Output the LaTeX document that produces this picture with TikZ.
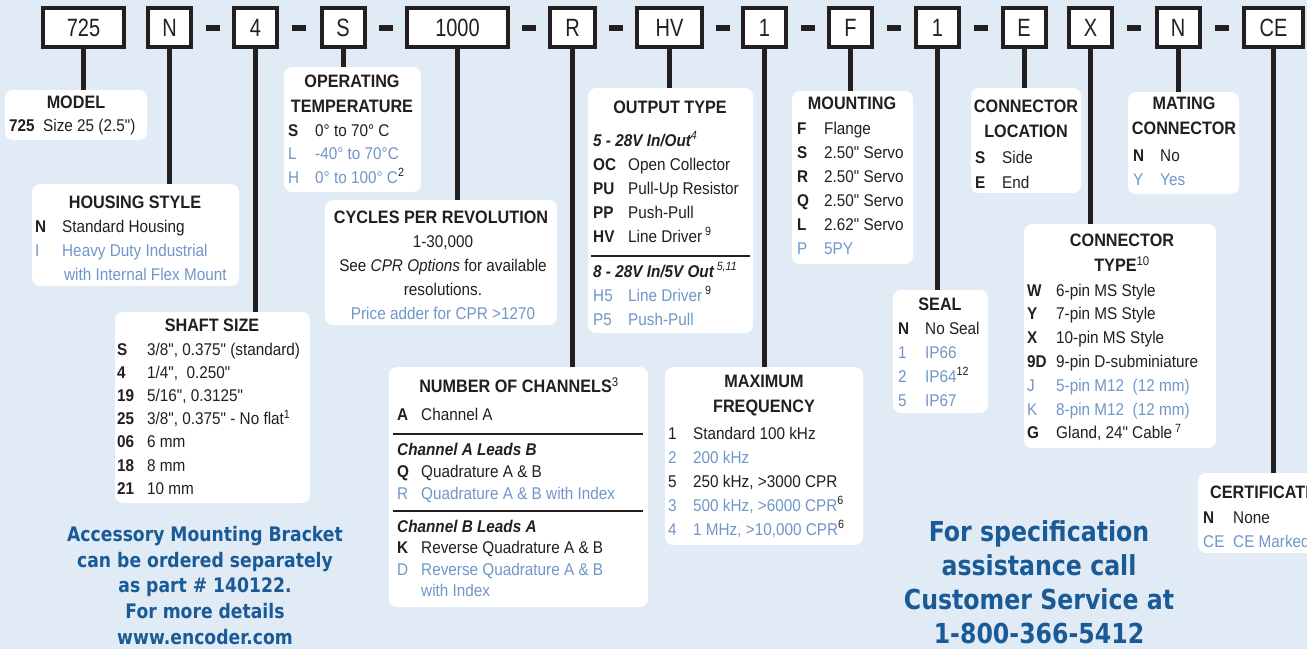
\documentclass[tikz,border=0pt]{standalone}
\usepackage{fontspec}
\newfontfamily\bodyfont{Liberation Sans}[FakeStretch=0.9]
\newfontfamily\codefont{Liberation Sans}[FakeStretch=0.8]
\newfontfamily\notefont{DejaVu Sans}[FakeStretch=0.86]
\usetikzlibrary{calc,fit}
\definecolor{bgBlue}{HTML}{E0EBF6}
\definecolor{ink}{HTML}{231F20}
\definecolor{optBlue}{HTML}{7096C8}
\definecolor{noteBlue}{HTML}{1A5A96}
\newcommand\optlite[1]{\textcolor{optBlue}{#1}}
\newcommand\fnote[1]{\textsuperscript{\mdseries\textcolor{ink}{#1}}}
\newcommand\optrows[2]{\begin{tabular}[t]{@{}p{#1}@{}l@{}}#2\end{tabular}}

\begin{document}
\bodyfont
\begin{tikzpicture}[x=1pt, y=-1pt,
      codebox/.style={draw=ink, line width=4pt, fill=white, inner sep=0pt,
                      minimum width=#1, minimum height=39pt, text=ink,
                      font=\codefont\fontsize{25}{25}\selectfont},
      codebox/.default=43pt,
      infobox/.style={fill=white, rounded corners=8pt, inner sep=0pt},
      ttl/.style={align=center, inner sep=0pt, text=ink,
                  font=\bodyfont\bfseries\fontsize{18}{25}\selectfont},
      rows/.style={anchor=base west, inner sep=0pt, text=ink,
                   font=\bodyfont\fontsize{17}{24}\selectfont},
      lines/.style={align=center, inner sep=0pt, text=ink,
                    font=\bodyfont\fontsize{17}{24}\selectfont},
      stem/.style={draw=ink, line width=5pt},
      rule/.style={draw=ink, line width=1.5pt},
      note/.style={align=center, inner sep=0pt, text=noteBlue}]
    \useasboundingbox (0,0) rectangle (1307,649);
    \fill[bgBlue] (0,0) rectangle (1307,649);
    \clip (0,0) rectangle (1307,649);

    % option boxes
    \node[infobox, fit={(5,90) (147,140)}]      (model)    {};
    \node[infobox, fit={(32,184) (239,286)}]    (housing)  {};
    \node[infobox, fit={(284,67) (421,192)}]    (oper)     {};
    \node[infobox, fit={(325,200) (557,325)}]   (cycles)   {};
    \node[infobox, fit={(115,312) (310,503)}]   (shaft)    {};
    \node[infobox, fit={(389,367) (648,607)}]   (channels) {};
    \node[infobox, fit={(588,88) (753,333)}]    (output)   {};
    \node[infobox, fit={(665,367) (863,545)}]   (maxfreq)  {};
    \node[infobox, fit={(792,91) (913,264)}]    (mounting) {};
    \node[infobox, fit={(893,290) (988,413)}]   (seal)     {};
    \node[infobox, fit={(971,88) (1081,193)}]   (location) {};
    \node[infobox, fit={(1128,92) (1239,194)}]  (mating)   {};
    \node[infobox, fit={(1024,224) (1216,448)}] (conntype) {};
    \node[infobox, fit={(1198,473) (1340,553)}] (cert)     {};

    % part number
    \node[codebox=81pt]  (c725)  at (83.5,27.5)   {725};
    \node[codebox]       (cN)    at (169.5,27.5)  {N};
    \node[codebox]       (c4)    at (255.5,27.5)  {4};
    \node[codebox]       (cS)    at (343,27.5)    {S};
    \node[codebox=101pt] (c1000) at (457.5,27.5)  {1000};
    \node[codebox=45pt]  (cR)    at (572.5,27.5)  {R};
    \node[codebox=65pt]  (cHV)   at (669.5,27.5)  {HV};
    \node[codebox]       (cFreq) at (764.5,27.5)  {1};
    \node[codebox]       (cF)    at (850.5,27.5)  {F};
    \node[codebox]       (cSeal) at (937.5,27.5)  {1};
    \node[codebox]       (cE)    at (1024,27.5)   {E};
    \node[codebox]       (cX)    at (1090.5,27.5) {X};
    \node[codebox]       (cMate) at (1178,27.5)   {N};
    \node[codebox=59pt]  (cCE)   at (1273.5,27.5) {CE};
    \foreach \a/\b in {cN/c4, c4/cS, cS/c1000, c1000/cR, cR/cHV, cHV/cFreq,
                       cFreq/cF, cF/cSeal, cSeal/cE, cX/cMate, cMate/cCE}
      \fill[ink] ($(\a.east)!.5!(\b.west)$) ++(-7,-3) rectangle ++(14,6);
    \foreach \c/\b in {c725/model, cN/housing, c4/shaft, cS/oper, c1000/cycles,
                       cR/channels, cHV/output, cFreq/maxfreq, cF/mounting,
                       cSeal/seal, cE/location, cX/conntype, cMate/mating, cCE/cert}
      \draw[stem] (\c.south) -- (\c.south |- \b.north);

    % model, housing, temperature
    \node[ttl] (modelT) at (76,102) {MODEL};
    \node[rows] (modelR) at (9,131) {\optrows{34pt}{\textbf{725} & Size 25 (2.5")}};
    \node[ttl] (housT) at (135,202) {HOUSING STYLE};
    \node[rows] (housR) at (35,232) {\optrows{27pt}{\textbf{N} & Standard Housing\\
      \optlite{I} & \optlite{Heavy Duty Industrial}\\
      & \optlite{\hspace{2pt}with Internal Flex Mount}}};
    \node[ttl] (operT) at (352,93.5) {OPERATING\\TEMPERATURE};
    \node[rows, font=\bodyfont\fontsize{17}{23.5}\selectfont] (operR) at (288,136)
      {\optrows{27pt}{\textbf{S} & 0° to 70° C\\
      \optlite{L} & \optlite{-40° to 70°C}\\
      \optlite{H} & \optlite{0° to 100° C}\fnote{2}}};

    % cycles, shaft
    \node[ttl] (cycT) at (441,217) {CYCLES PER REVOLUTION};
    \node[lines] (cycR) at (443,277.5) {1-30,000\\ See \textit{CPR Options} for available\\
      resolutions.\\ \optlite{Price adder for CPR >1270}};
    \node[ttl] (shaftT) at (212,325) {SHAFT SIZE};
    \node[rows, font=\bodyfont\fontsize{17}{23.2}\selectfont] (shaftR) at (117,355)
      {\optrows{30pt}{\textbf{S} & 3/8", 0.375" (standard)\\
      \textbf{4} & 1/4",\ \ 0.250"\\
      \textbf{19} & 5/16", 0.3125"\\
      \textbf{25} & 3/8", 0.375" - No flat\fnote{1}\\
      \textbf{06} & 6 mm\\
      \textbf{18} & 8 mm\\
      \textbf{21} & 10 mm}};

    % channels
    \node[ttl] (chanT) at (519,385) {NUMBER OF CHANNELS\fnote{3}};
    \node[rows] (chanA) at (397,420) {\optrows{24pt}{\textbf{A} & Channel A}};
    \draw[rule] (393,434) -- (643,434);
    \node[rows, font=\bodyfont\fontsize{17}{22}\selectfont] (chanAB) at (397,455)
      {\optrows{24pt}{\multicolumn{2}{@{}l@{}}{\bfseries\itshape Channel A Leads B}\\
      \textbf{Q} & Quadrature A \& B\\
      \optlite{R} & \optlite{Quadrature A \& B with Index}}};
    \draw[rule] (393,511) -- (643,511);
    \node[rows, font=\bodyfont\fontsize{17}{21.5}\selectfont] (chanBA) at (397,532)
      {\optrows{24pt}{\multicolumn{2}{@{}l@{}}{\bfseries\itshape Channel B Leads A}\\
      \textbf{K} & Reverse Quadrature A \& B\\
      \optlite{D} & \optlite{Reverse Quadrature A \& B}\\
      & \optlite{with Index}}};

    % output type
    \node[ttl] (outT) at (670,107) {OUTPUT TYPE};
    \node[rows] (out5) at (593,146)
      {\optrows{35pt}{\multicolumn{2}{@{}l@{}}{\bfseries\itshape 5 - 28V In/Out\fnote{4}}\\
      \textbf{OC} & Open Collector\\
      \textbf{PU} & Pull-Up Resistor\\
      \textbf{PP} & Push-Pull\\
      \textbf{HV} & Line Driver\,\fnote{9}}};
    \draw[rule] (591,256) -- (750,256);
    \node[rows] (out8) at (593,277)
      {\optrows{35pt}{\multicolumn{2}{@{}l@{}}{\bfseries\itshape 8 - 28V In/5V Out\,\fnote{5,11}}\\
      \optlite{H5} & \optlite{Line Driver}\,\fnote{9}\\
      \optlite{P5} & \optlite{Push-Pull}}};

    % frequency, mounting, seal
    \node[ttl] (freqT) at (764,396) {MAXIMUM\\FREQUENCY};
    \node[rows] (freqR) at (668,439) {\optrows{25pt}{1 & Standard 100 kHz\\
      \optlite{2} & \optlite{200 kHz}\\
      5 & 250 kHz, >3000 CPR\\
      \optlite{3} & \optlite{500 kHz, >6000 CPR}\fnote{6}\\
      \optlite{4} & \optlite{1 MHz, >10,000 CPR}\fnote{6}}};
    \node[ttl] (mountT) at (852,103) {MOUNTING};
    \node[rows] (mountR) at (797,134) {\optrows{27pt}{\textbf{F} & Flange\\
      \textbf{S} & 2.50" Servo\\
      \textbf{R} & 2.50" Servo\\
      \textbf{Q} & 2.50" Servo\\
      \textbf{L} & 2.62" Servo\\
      \optlite{P} & \optlite{5PY}}};
    \node[ttl] (sealT) at (940,304) {SEAL};
    \node[rows] (sealR) at (898,334) {\optrows{27pt}{\textbf{N} & No Seal\\
      \optlite{1} & \optlite{IP66}\\
      \optlite{2} & \optlite{IP64}\fnote{12}\\
      \optlite{5} & \optlite{IP67}}};

    % connector
    \node[ttl] (locT) at (1026,118.5) {CONNECTOR\\LOCATION};
    \node[rows, font=\bodyfont\fontsize{17}{25}\selectfont] (locR) at (975,163)
      {\optrows{27pt}{\textbf{S} & Side\\ \textbf{E} & End}};
    \node[ttl] (mateT) at (1184,116) {MATING\\CONNECTOR};
    \node[rows] (mateR) at (1133,161) {\optrows{27pt}{\textbf{N} & No\\ \optlite{Y} & \optlite{Yes}}};
    \node[ttl] (typeT) at (1122,253) {CONNECTOR\\TYPE\fnote{10}};
    \node[rows, font=\bodyfont\fontsize{17}{23.8}\selectfont] (typeR) at (1027,296)
      {\optrows{29pt}{\textbf{W} & 6-pin MS Style\\
      \textbf{Y} & 7-pin MS Style\\
      \textbf{X} & 10-pin MS Style\\
      \textbf{9D} & 9-pin D-subminiature\\
      \optlite{J} & \optlite{5-pin M12\ \ (12 mm)}\\
      \optlite{K} & \optlite{8-pin M12\ \ (12 mm)}\\
      \textbf{G} & Gland, 24" Cable\,\fnote{7}}};
    \node[ttl, anchor=west] (certT) at (1210,492) {CERTIFICATION};
    \node[rows] (certR) at (1203,523) {\optrows{30pt}{\textbf{N} & None\\
      \optlite{CE} & \optlite{CE Marked}}};

    % notes
    \node[note, font=\notefont\bfseries\fontsize{20}{25.7}\selectfont] (bracket) at (205,585.5)
      {Accessory Mounting Bracket\\ can be ordered separately\\ as part \# 140122.\\
      For more details\\ www.encoder.com};
    \node[note, font=\notefont\bfseries\fontsize{27.5}{34}\selectfont] (phone) at (1039,582)
      {For specification\\ assistance call\\ Customer Service at\\ 1-800-366-5412};
  \end{tikzpicture}
\end{document}
